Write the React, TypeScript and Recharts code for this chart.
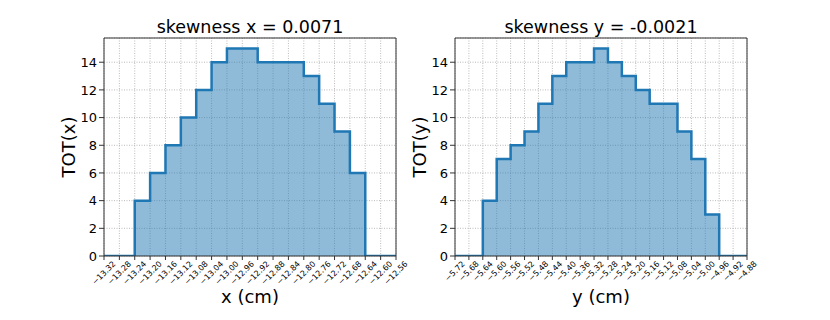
import { ComposedChart, Area, XAxis, YAxis, CartesianGrid, ReferenceArea } from "recharts";

// bin edges (also the x tick labels) and counts per bin
const xEdges = [
  -13.32, -13.28, -13.24, -13.2, -13.16, -13.12, -13.08, -13.04, -13.0, -12.96,
  -12.92, -12.88, -12.84, -12.8, -12.76, -12.72, -12.68, -12.64, -12.6, -12.56,
];
const xCounts = [0, 0, 4, 6, 8, 10, 12, 14, 15, 15, 14, 14, 14, 13, 11, 9, 6, 0, 0];

const yEdges = [
  -5.72, -5.68, -5.64, -5.6, -5.56, -5.52, -5.48, -5.44, -5.4, -5.36, -5.32,
  -5.28, -5.24, -5.2, -5.16, -5.12, -5.08, -5.04, -5.0, -4.96, -4.92, -4.88,
];
const yCounts = [0, 0, 4, 7, 8, 9, 11, 13, 14, 14, 15, 14, 13, 12, 11, 11, 9, 7, 3, 0, 0];

const totTicks = [0, 2, 4, 6, 8, 10, 12, 14];
const totMax = 15.75;

const W = 415;
const H = 320;
const PLOT_LEFT = 104;
const PLOT_TOP = 38;
const PLOT_BOTTOM = 256;
const PLOT_MID_X = 250;

const fmt = (v: number) => v.toFixed(2).replace("-", "\u2212");

function SlantTick(props: any) {
  const { x, y, payload } = props;
  const s = fmt(payload.value);
  const fs = 8;
  const half = ((s.length * 0.6 * fs + fs) * 0.707) / 2;
  const cy = y + half;
  return (
    <text
      x={x}
      y={cy}
      textAnchor="middle"
      dominantBaseline="central"
      fontSize={fs}
      fill="#000"
      transform={`rotate(-45 ${x} ${cy})`}
    >
      {s}
    </text>
  );
}

function Panel({
  left,
  title,
  edges,
  counts,
  xLabel,
  yLabel,
}: {
  left: number;
  title: string;
  edges: number[];
  counts: number[];
  xLabel: string;
  yLabel: string;
}) {
  const data = edges.map((e, i) => ({ x: e, tot: counts[Math.min(i, counts.length - 1)] }));
  const lo = edges[0];
  const hi = edges[edges.length - 1];

  return (
    <div style={{ position: "absolute", left, top: 0, width: W, height: H }}>
      <ComposedChart
        width={W}
        height={H}
        data={data}
        margin={{ top: PLOT_TOP, right: W - 396, bottom: 0, left: 54 }}
      >
        <CartesianGrid stroke="#aaa" strokeWidth={0.8} strokeDasharray="1 1.5" />
        <XAxis
          dataKey="x"
          type="number"
          domain={[lo, hi]}
          ticks={edges}
          interval={0}
          allowDataOverflow
          height={H - PLOT_BOTTOM}
          tickSize={4}
          tickMargin={0}
          tick={<SlantTick />}
          axisLine={false}
          tickLine={{ stroke: "#333" }}
          label={() => (
            <text x={PLOT_MID_X} y={303} textAnchor="middle" fontSize={18} fill="#000">
              {xLabel}
            </text>
          )}
        />
        <YAxis
          type="number"
          domain={[0, totMax]}
          ticks={totTicks}
          interval={0}
          allowDataOverflow
          width={PLOT_LEFT - 54}
          tickSize={5}
          tickMargin={2}
          axisLine={false}
          tickLine={{ stroke: "#333" }}
          tick={{ fill: "#000", fontSize: 13 }}
          label={() => (
            <text
              x={75}
              y={147}
              textAnchor="middle"
              fontSize={18}
              fill="#000"
              transform="rotate(-90 75 147)"
            >
              {yLabel}
            </text>
          )}
        />
        <Area
          type="stepAfter"
          dataKey="tot"
          baseValue={0}
          fill="#1f77b4"
          fillOpacity={0.5}
          stroke="#1f77b4"
          strokeWidth={2.5}
          dot={false}
          activeDot={false}
          isAnimationActive={false}
        />
        <ReferenceArea
          x1={lo}
          x2={hi}
          y1={0}
          y2={totMax}
          fill="none"
          fillOpacity={0}
          stroke="#333"
          strokeWidth={1}
          label={{ value: title, position: "top", offset: 5, fontSize: 17.5, fill: "#000" }}
        />
      </ComposedChart>
    </div>
  );
}

export default function App() {
  return (
    <div
      style={{
        position: "absolute",
        left: 0,
        top: 0,
        width: 830,
        height: 320,
        background: "#fff",
        fontFamily: "'DejaVu Sans', sans-serif",
      }}
    >
      <Panel
        left={0}
        title="skewness x = 0.0071"
        edges={xEdges}
        counts={xCounts}
        xLabel="x (cm)"
        yLabel="TOT(x)"
      />
      <Panel
        left={351}
        title="skewness y = -0.0021"
        edges={yEdges}
        counts={yCounts}
        xLabel="y (cm)"
        yLabel="TOT(y)"
      />
    </div>
  );
}
